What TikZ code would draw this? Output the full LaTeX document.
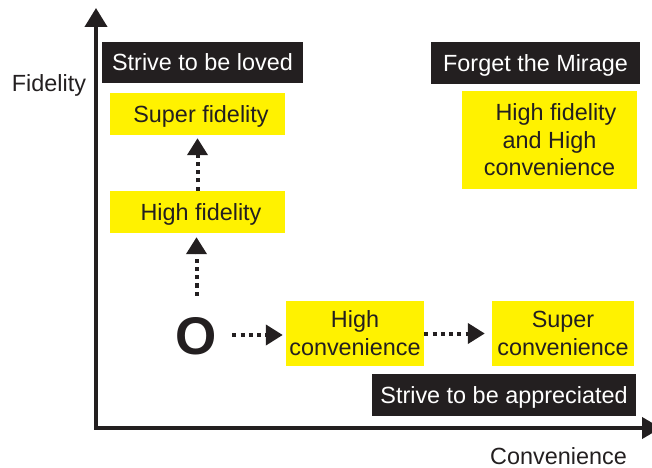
\documentclass[tikz,border=0pt]{standalone}
\usepackage{fontspec}
\setmainfont{Liberation Sans}
\usetikzlibrary{arrows.meta}
\definecolor{ybox}{RGB}{255,242,0}
\definecolor{kbox}{RGB}{35,31,32}
\begin{document}
\begin{tikzpicture}[x=1bp,y=-1bp,
  basebox/.style={inner sep=0pt, font=\fontsize{23.4bp}{28bp}\selectfont, align=center,
    text height=16.75bp, text depth=0pt},
  darkbox/.style={basebox, fill=kbox, text=white},
  yellowbox/.style={basebox, fill=ybox, text=kbox},
  twoline/.style={text height=44.75bp},
  threeline/.style={font=\fontsize{23.4bp}{27.5bp}\selectfont, text height=71.75bp},
  axisline/.style={line width=4bp, draw=kbox, line join=miter},
  dotarrow/.style={line width=4bp, draw=kbox, dash pattern=on 4bp off 4.3bp,
    -{Triangle[length=17bp,width=20bp]}},
  axislabel/.style={inner sep=0pt, font=\fontsize{23.4bp}{28bp}\selectfont, text=kbox, anchor=base}
]
\useasboundingbox (0,0) rectangle (652,468);
\begin{scope}
\clip (0,0) rectangle (652,468);

% axes
\coordinate (orig) at (96,428);
\coordinate (ytip) at (96,8);
\coordinate (xtip) at (661,428);
\draw[axisline, {Triangle[length=19bp,width=22bp]}-{Triangle[length=19bp,width=21bp]}]
  (ytip) -- (orig) -- (xtip);

% axis labels
\node[axislabel] (fid) at (49,92) {Fidelity};
\node[axislabel] (conv) at (558.5,464) {Convenience};

% dark boxes
\node[darkbox, minimum width=201bp, minimum height=41bp] (loved) at (202.5,62.5) {Strive to be loved};
\node[darkbox, minimum width=209bp, minimum height=42bp] (mirage) at (535.5,63) {Forget the Mirage};
\node[darkbox, minimum width=264bp, minimum height=42bp] (appr) at (504,395) {Strive to be appreciated};

% yellow boxes
\node[yellowbox, minimum width=175bp, minimum height=42bp] (superfid) at (197.5,114) {\hspace*{7bp}Super fidelity};
\node[yellowbox, minimum width=175bp, minimum height=42bp] (highfid) at (197.5,212) {\hspace*{7bp}High fidelity};
\node[yellowbox, twoline, minimum width=138bp, minimum height=65bp] (highconv) at (355,333.5) {High\\convenience};
\node[yellowbox, twoline, minimum width=142bp, minimum height=65bp] (superconv) at (563,333.5) {Super\\convenience};
\node[yellowbox, threeline, minimum width=175bp, minimum height=98bp] (both) at (549.5,140) {\hspace*{13bp}High fidelity\\and High\\convenience};

% origin
\node[inner sep=0pt, font=\fontsize{53bp}{60bp}\selectfont\bfseries, text=kbox,
  text height=38bp, text depth=0pt, minimum width=71bp, minimum height=78bp] (O) at (196.5,335) {O};

% dotted arrows
\draw[dotarrow, shorten >=4bp] (O) -- (O |- highfid.south);
\draw[dotarrow, shorten >=3bp] (highfid) -- (superfid);
\draw[dotarrow, shorten >=3bp] (O) -- (O -| highconv.west);
\draw[dotarrow, shorten >=7bp] (highconv) -- (superconv);
\end{scope}
\end{tikzpicture}
\end{document}
